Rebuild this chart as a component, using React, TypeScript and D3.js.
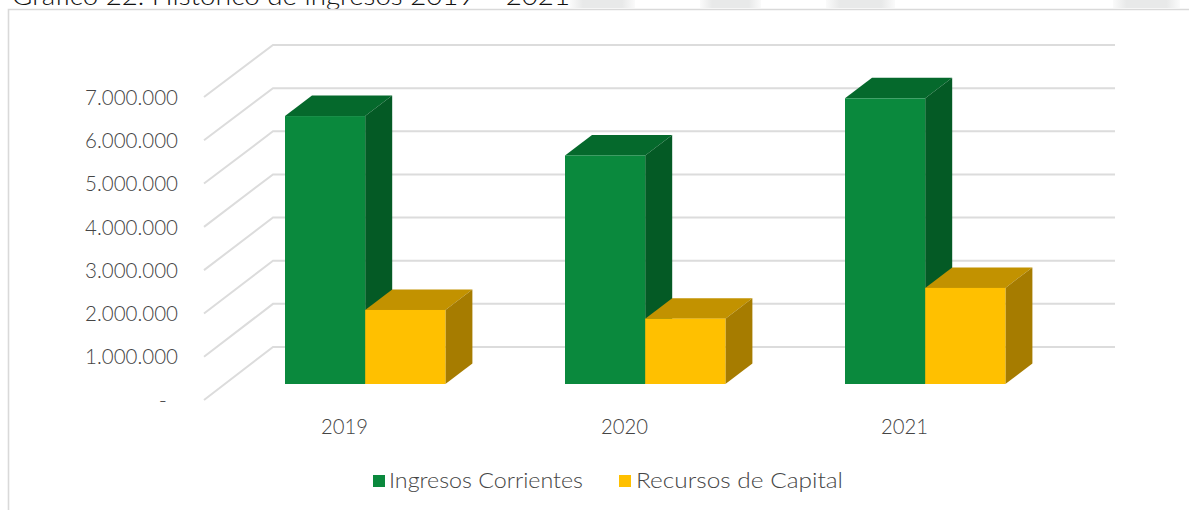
import React from "react";
import * as d3 from "d3";

const categories = ["2019", "2020", "2021"];
const ingresosCorrientes = [6190000, 5280000, 6600000];
const recursosCapital = [1710000, 1510000, 2220000];
const yTicks = [0, 1000000, 2000000, 3000000, 4000000, 5000000, 6000000, 7000000];
const tickLabels = ["-", "1.000.000", "2.000.000", "3.000.000", "4.000.000", "5.000.000", "6.000.000", "7.000.000"];
const legendLabels = ["Ingresos Corrientes", "Recursos de Capital"];
const titleText = "Gráfico 22. Histórico de ingresos 2019 – 2021";
const smudges = [[570, 65], [700, 61], [826, 69], [1113, 67]];

const W = 1189, H = 510;
const FONT = "Lato, 'Open Sans', sans-serif";
const TXT = "#454545";
const GRID = "#dcdcdc";

const yFront = d3.scaleLinear().domain([0, 7000000]).range([400, 97]);
const yBack = d3.scaleLinear().domain([0, 7000000]).range([347, 45]);
const yBar = d3.scaleLinear().domain([0, 7000000]).range([384, 81]);
const xCat = d3.scaleBand().domain(categories).range([225, 1065]).padding(0);

const BAR_W = 80.2, DX = 27, DY = 20.5;

function Box({ x, v, front, top, side }: { x: number; v: number; front: string; top: string; side: string }) {
  const y0 = yBar(0), y1 = yBar(v), x1 = x + BAR_W;
  return (
    <g>
      <path d={`M${x},${y1}L${x + DX},${y1 - DY}L${x1 + DX},${y1 - DY}L${x1},${y1}Z`} fill={top} />
      <path d={`M${x1},${y1}L${x1 + DX},${y1 - DY}L${x1 + DX},${y0 - DY}L${x1},${y0}Z`} fill={side} />
      <rect x={x} y={y1} width={BAR_W} height={y0 - y1} fill={front} />
    </g>
  );
}

export default function App() {
  return (
    <svg width={W} height={H} style={{ position: "absolute", left: 0, top: 0, background: "#fff" }}>
      <defs>
        <linearGradient id="smudge" x1="0" x2="1" y1="0" y2="0">
          <stop offset="0" stopColor="#e8e9e9" stopOpacity={0.2} />
          <stop offset="0.2" stopColor="#e8e9e9" />
          <stop offset="0.8" stopColor="#e8e9e9" />
          <stop offset="1" stopColor="#e8e9e9" stopOpacity={0.2} />
        </linearGradient>
      </defs>
      {smudges.map(([x, w], i) => (
        <rect key={i} x={x} y={0} width={w} height={8} fill="url(#smudge)" />
      ))}
      <text x={12} y={5} fontFamily={FONT} fontWeight={300} fontSize={26} fill="#111" textLength={558} lengthAdjust="spacingAndGlyphs">
        {titleText}
      </text>
      <path d={`M8.5,${H}V9.5H${W}`} fill="none" stroke="#d9d9d9" strokeWidth={1.6} />

      {yTicks.map((t, i) => (
        <g key={t}>
          <path d={`M204,${yFront(t)}L273,${yBack(t)}H1115`} fill="none" stroke={GRID} strokeWidth={2} />
          <text x={t > 0 ? 178 : 167} y={yFront(t)} dy="0.35em" textAnchor="end" fontFamily={FONT} fontWeight={300} fontSize={22} fill={TXT}
            {...(t > 0 ? { textLength: 93, lengthAdjust: "spacingAndGlyphs" } : {})}>
            {tickLabels[i]}
          </text>
        </g>
      ))}

      {categories.map((c, i) => {
        const x = (xCat(c) as number) + 60;
        return (
          <g key={c}>
            <Box x={x} v={ingresosCorrientes[i]} front="#0a893d" top="#05692c" side="#045a25" />
            <Box x={x + BAR_W} v={recursosCapital[i]} front="#ffc000" top="#c29200" side="#a67c00" />
            <text x={x + 59.5} y={434} textAnchor="middle" fontFamily={FONT} fontWeight={300} fontSize={22} fill={TXT}
              textLength={47} lengthAdjust="spacingAndGlyphs">
              {c}
            </text>
          </g>
        );
      })}

      <rect x={373} y={475} width={12} height={12} fill="#0a893d" />
      <text x={389} y={488} fontFamily={FONT} fontWeight={300} fontSize={22} fill={TXT} textLength={194} lengthAdjust="spacingAndGlyphs">
        {legendLabels[0]}
      </text>
      <rect x={619} y={475} width={12} height={12} fill="#ffc000" />
      <text x={636} y={488} fontFamily={FONT} fontWeight={300} fontSize={22} fill={TXT} textLength={207} lengthAdjust="spacingAndGlyphs">
        {legendLabels[1]}
      </text>
    </svg>
  );
}
